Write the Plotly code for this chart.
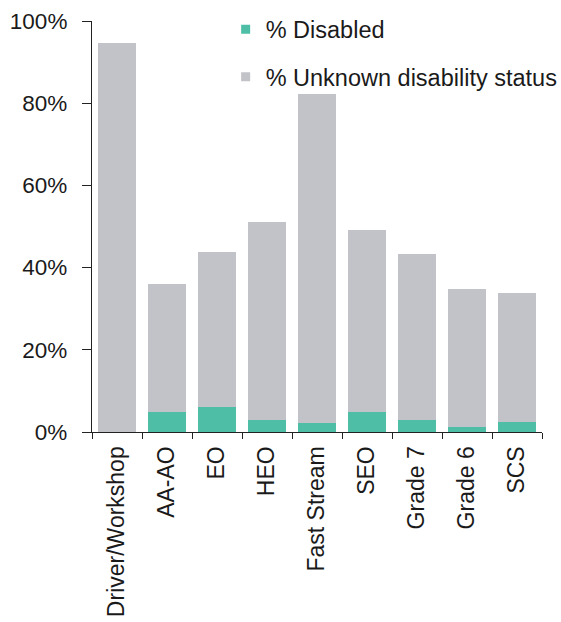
import plotly.graph_objects as go

categories = ["Driver/Workshop", "AA-AO", "EO", "HEO", "Fast Stream", "SEO", "Grade 7", "Grade 6", "SCS"]
total_pct = [94.7, 35.9, 43.7, 51.2, 82.2, 49.2, 43.4, 34.9, 33.9]
disabled_pct = [0.0, 4.9, 6.2, 3.0, 2.1, 4.9, 3.0, 1.1, 2.4]
unknown_pct = [round(t - d, 1) for t, d in zip(total_pct, disabled_pct)]
y_ticks = [0, 20, 40, 60, 80, 100]
y_tick_labels = ["0%", "20%", "40%", "60%", "80%", "100%"]

GREEN = "#4EBFA6"
GREY = "#C2C3C8"
FONT = "Liberation Sans, Arial, sans-serif"

fig = go.Figure()
fig.add_trace(go.Bar(x=categories, y=disabled_pct, name="% Disabled",
                     marker=dict(color=GREEN, line=dict(width=0)), showlegend=False))
fig.add_trace(go.Bar(x=categories, y=unknown_pct, name="% Unknown disability status",
                     marker=dict(color=GREY, line=dict(width=0)), showlegend=False))
# legend swatches
fig.add_trace(go.Scatter(x=[None], y=[None], mode="markers", name="% Disabled",
                         marker=dict(symbol="square", size=9, color=GREEN),
                         legendgroup="a"))
fig.add_trace(go.Scatter(x=[None], y=[None], mode="markers", name="% Unknown disability status",
                         marker=dict(symbol="square", size=9, color=GREY),
                         legendgroup="b"))

fig.update_layout(
    width=561, height=622,
    margin=dict(l=92, r=19, t=21, b=190, autoexpand=False),
    barmode="stack", bargap=0.23,
    plot_bgcolor="white", paper_bgcolor="white",
    font=dict(family=FONT, size=23, color="#1a1a1a"),
    legend=dict(x=0.297, y=1.033, xanchor="left", yanchor="top",
                traceorder="grouped", tracegroupgap=14,
                font=dict(size=23.5), bgcolor="rgba(0,0,0,0)", itemwidth=30),
)
fig.update_xaxes(showline=True, linecolor="#222", linewidth=1.2,
                 ticks="outside", tickson="boundaries", ticklen=6, tickcolor="#222",
                 tickangle=-90, tickfont=dict(size=23), showgrid=False,
                 ticklabelstandoff=4, automargin=False)
fig.update_yaxes(range=[0, 100], tickvals=y_ticks, ticktext=y_tick_labels,
                 showline=True, linecolor="#222", linewidth=1.2,
                 ticks="outside", ticklen=9, tickcolor="#222",
                 showgrid=False, zeroline=False, tickfont=dict(size=22.5),
                 ticklabelstandoff=10, automargin=False)

fig.write_html("out.html")
